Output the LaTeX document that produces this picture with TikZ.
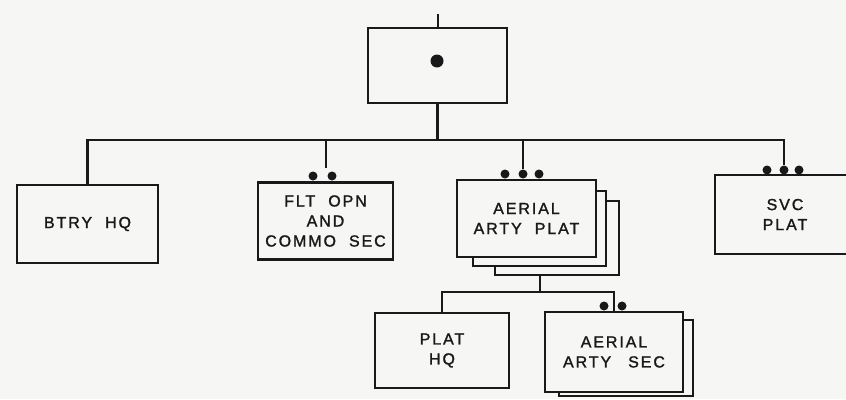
\documentclass[tikz,border=0pt]{standalone}
\usepackage{fontspec}
\newfontfamily\lbl{Liberation Sans}[LetterSpace=12,FakeBold=1.5]
\definecolor{paper}{RGB}{246,246,244}
\definecolor{ink}{RGB}{25,25,25}
\newcommand\wsp{\hspace{13pt}}
\begin{document}
\begin{tikzpicture}[x=1pt,y=-1pt,
  unit/.style={draw=ink, line width=2.3pt, fill=paper, rectangle, inner sep=0pt,
    align=center, font=\lbl\fontsize{16}{20}\selectfont, text=ink},
  smalldot/.style={circle, fill=ink, inner sep=0pt, minimum size=9pt},
  link/.style={draw=ink, line width=2.3pt}]
\fill[paper] (0,0) rectangle (846,399);
\useasboundingbox (0,0) rectangle (846,399);
\clip (0,0) rectangle (846,399);

% top unit
\node[unit, minimum width=139pt, minimum height=75pt] (top) at (437.5,65.5) {};
\node[circle, fill=ink, inner sep=0pt, minimum size=13pt] (topdot) at (437,61) {};
\coordinate (topin) at (438,14);

% second level
\node[unit, minimum width=141pt, minimum height=78pt] (btry) at (87.5,224) {BTRY\wsp HQ};
\node[unit, minimum width=135pt, minimum height=77pt] (flt) at (325.5,221) {FLT\wsp OPN\\AND\\COMMO\wsp SEC};
\node[unit, minimum width=124pt, minimum height=74pt] (plat3) at (557,238) {};
\node[unit, minimum width=133pt, minimum height=75pt] (plat2) at (539.5,228.5) {};
\node[unit, minimum width=139pt, minimum height=77pt] (plat) at (526.5,218.5) {AERIAL\\ARTY\wsp PLAT};
\node[unit, minimum width=140pt, minimum height=79pt] (svc) at (785,214.5) {SVC\\PLAT};

% third level
\node[unit, minimum width=134pt, minimum height=75pt] (plathq) at (442,350.5) {PLAT\\HQ};
\node[unit, minimum width=134pt, minimum height=76pt] (sec2) at (626,358) {};
\node[unit, minimum width=138pt, minimum height=80pt] (sec) at (614,352) {AERIAL\\ARTY\wsp\hspace{4pt}SEC};

% echelon dots
\node[smalldot] (fd1) at (313,176) {};
\node[smalldot] (fd2) at (332,176) {};
\node[smalldot] (pd1) at (505,174) {};
\node[smalldot] (pd2) at (523,174) {};
\node[smalldot] (pd3) at (539,174) {};
\node[smalldot] (sd1) at (767,170) {};
\node[smalldot] (sd2) at (784,170) {};
\node[smalldot] (sd3) at (799,170) {};
\node[smalldot] (ed1) at (604,306) {};
\node[smalldot] (ed2) at (622,306) {};

\coordinate (bus) at (0,140);
\coordinate (fltstem) at (326,168);
\coordinate (stkb) at (540,275);
\coordinate (subbus) at (0,292);

% connectors
\draw[link] (topin) -- (topin |- top.north);
\draw[link] (btry.north) |- (sd2 |- bus) -- (sd2.north);
\draw[link] (top.south) -- (top.south |- bus);
\draw[link] (fltstem) -- (fltstem |- bus);
\draw[link] (pd2.north) -- (pd2 |- bus);
\draw[link] (stkb) -- (stkb |- subbus);
\draw[link] (plathq.north) |- (subbus -| sec.north) -- (sec.north);
\end{tikzpicture}
\end{document}
